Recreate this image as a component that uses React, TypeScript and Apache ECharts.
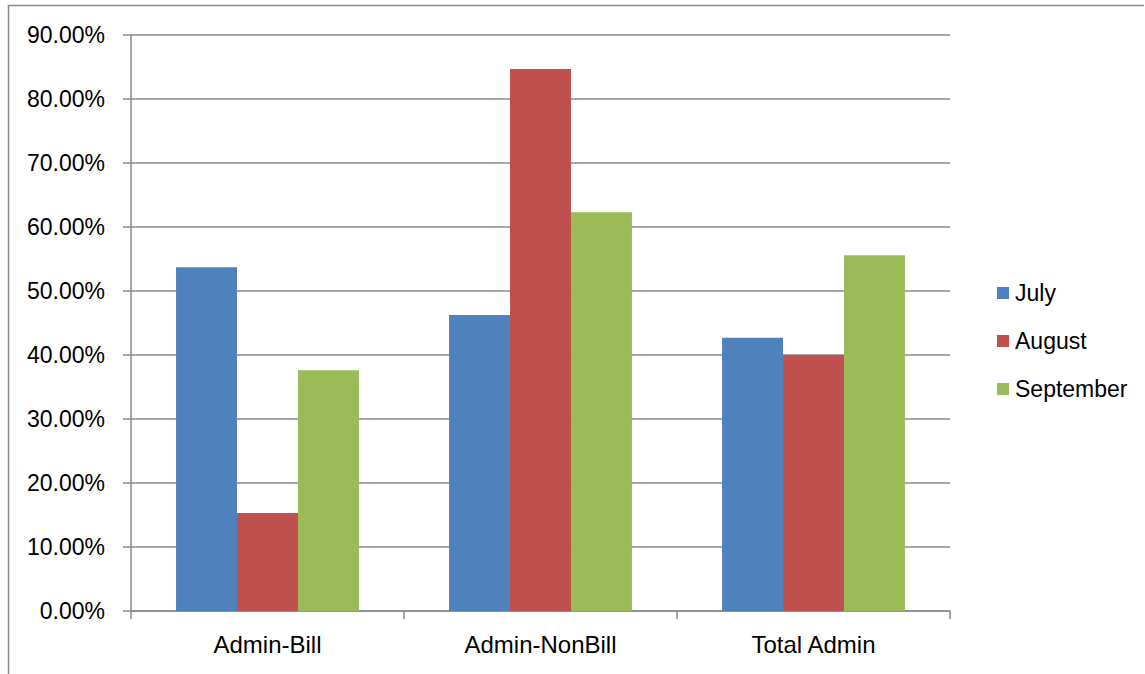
import React, { useEffect, useRef } from "react";
import * as echarts from "echarts";

const categories = ["Admin-Bill", "Admin-NonBill", "Total Admin"];
const seriesNames = ["July", "August", "September"];
const julyValues = [53.7, 46.25, 42.7];
const augustValues = [15.3, 84.7, 40.0];
const septemberValues = [37.6, 62.3, 55.6];
const colors = ["#4F81BD", "#C0504D", "#9BBB59"];

const FONT = "'Liberation Sans', Arial, sans-serif";

export default function App() {
  const ref = useRef<HTMLDivElement>(null);
  useEffect(() => {
    if (!ref.current) return;
    const chart = echarts.init(ref.current, undefined, { renderer: "svg" });
    const values = [julyValues, augustValues, septemberValues];
    chart.setOption({
      animation: false,
      backgroundColor: "#ffffff",
      graphic: [
        {
          type: "polyline",
          shape: { points: [[8.5, 680], [8.5, 5.5], [1144, 5.5]] },
          style: { stroke: "#8a8a8a", lineWidth: 1.5, fill: "none" },
          silent: true,
        },
      ],
      grid: { left: 131, top: 35, right: 195, bottom: 63, containLabel: false },
      legend: {
        orient: "vertical",
        left: 997,
        top: 281,
        padding: 0,
        itemWidth: 12,
        itemHeight: 12,
        itemGap: 24,
        icon: "rect",
        textStyle: {
          fontFamily: FONT,
          fontSize: 23,
          lineHeight: 24,
          color: "#000",
          padding: [0, 0, 0, 1],
        },
        data: seriesNames,
      },
      xAxis: {
        type: "category",
        data: categories,
        axisLine: { lineStyle: { color: "#8a8a8a", width: 1.5 } },
        axisTick: { show: true, length: 8, lineStyle: { color: "#8a8a8a", width: 1.5 } },
        axisLabel: { fontFamily: FONT, fontSize: 24, color: "#000", margin: 21 },
      },
      yAxis: {
        type: "value",
        min: 0,
        max: 90,
        interval: 10,
        axisLine: { show: true, lineStyle: { color: "#8a8a8a", width: 1.5 } },
        axisTick: { show: true, length: 8, lineStyle: { color: "#8a8a8a", width: 1.5 } },
        splitLine: { show: true, lineStyle: { color: "#8a8a8a", width: 1.5 } },
        axisLabel: {
          fontFamily: FONT,
          fontSize: 23,
          color: "#000",
          margin: 26,
          formatter: (v: number) => v.toFixed(2) + "%",
        },
      },
      series: seriesNames.map((name, i) => ({
        name,
        type: "bar",
        data: values[i],
        barGap: "0%",
        barCategoryGap: "33%",
        itemStyle: { color: colors[i] },
      })),
    });
    return () => chart.dispose();
  }, []);
  return (
    <div
      ref={ref}
      style={{ position: "fixed", left: 0, top: 0, width: 1145, height: 674 }}
    />
  );
}
